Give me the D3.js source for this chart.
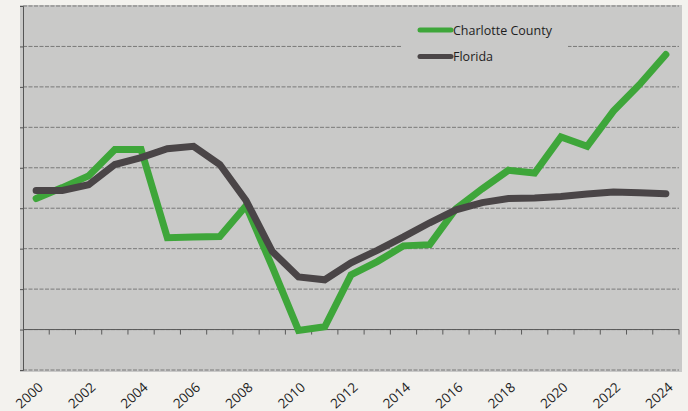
<!DOCTYPE html>
<html>

<head>
    <meta charset="utf-8">
    <title>Charlotte County vs Florida</title>
    <script src="https://d3js.org/d3.v7.min.js"></script>
    <style>
        body { margin: 0; background: #f3f2ee; }
        svg { display: block; }
    </style>
</head>

<body>
    <svg width="688" height="411"></svg>
    <script>
        // data (one gridline = 1 unit, category axis sits at 0)
        const years = d3.range(2000, 2025)
        const charlotte = [3.24, 3.51, 3.80, 4.45, 4.45, 2.27, 2.29, 2.30, 3.06, 1.55,
            -0.02, 0.07, 1.35, 1.68, 2.07, 2.10, 2.99, 3.48, 3.94, 3.87,
            4.76, 4.53, 5.40, 6.06, 6.80]
        const florida = [3.44, 3.44, 3.58, 4.08, 4.25, 4.47, 4.53, 4.08, 3.19, 1.93,
            1.30, 1.23, 1.65, 1.96, 2.29, 2.64, 2.96, 3.14, 3.24, 3.25,
            3.29, 3.35, 3.40, 3.38, 3.36]
        const yTicks = d3.range(-1, 9)
        const labelYears = years.filter(y => y % 2 == 0)

        const series = [
            { name: "Charlotte County", values: charlotte, color: "#3ea63a" },
            { name: "Florida", values: florida, color: "#4a4547" }
        ]

        const svg = d3.select("svg")
        const plot = { left: 23, right: 679, top: 6, bottom: 370 }

        const xScale = d3.scaleBand()
            .domain(years)
            .range([plot.left, plot.right])
        const xMid = d => xScale(d) + xScale.bandwidth() / 2

        const yScale = d3.scaleLinear()
            .domain([-1, 8])
            .range([plot.bottom, plot.top])

        // plot area background
        svg.append("rect")
            .attr("x", plot.left - 3)
            .attr("y", plot.top - 1)
            .attr("width", plot.right - plot.left + 6)
            .attr("height", plot.bottom - plot.top + 3)
            .attr("fill", "#c9c9c8")

        // gridlines
        svg.append("g")
            .selectAll("line")
            .data(yTicks)
            .enter()
            .append("line")
            .attr("x1", plot.left)
            .attr("x2", plot.right)
            .attr("y1", d => yScale(d))
            .attr("y2", d => yScale(d))
            .attr("stroke", "#5f5f5f")
            .attr("stroke-width", 1)
            .attr("stroke-dasharray", "4,1.5")
            .attr("opacity", 0.75)

        // left value axis, no labels (cut off in the scan)
        const yAxis = d3.axisLeft(yScale)
            .tickValues(yTicks)
            .tickSize(3)
            .tickFormat("")
        const yG = svg.append("g")
            .attr("transform", `translate(${plot.left},0)`)
        yAxis(yG)
        yG.select(".domain").attr("stroke", "#555")
        yG.selectAll(".tick line").attr("stroke", "#555")

        // category axis crossing at 0
        const y0 = yScale(0)
        svg.append("line")
            .attr("x1", plot.left)
            .attr("x2", plot.right)
            .attr("y1", y0)
            .attr("y2", y0)
            .attr("stroke", "#5a5a5a")
            .attr("stroke-width", 1)
        svg.append("g")
            .selectAll("line")
            .data(years.slice(1).concat([2025]))
            .enter()
            .append("line")
            .attr("x1", d => d == 2025 ? plot.right : xScale(d))
            .attr("x2", d => d == 2025 ? plot.right : xScale(d))
            .attr("y1", y0)
            .attr("y2", y0 + 5)
            .attr("stroke", "#5a5a5a")

        // legend box hides gridlines behind it
        svg.append("rect")
            .attr("x", 402)
            .attr("y", 16)
            .attr("width", 166)
            .attr("height", 54)
            .attr("fill", "#c9c9c8")

        // lines
        const line = d3.line()
            .x((d, i) => xMid(years[i]))
            .y(d => yScale(d))

        svg.append("g")
            .selectAll("path")
            .data(series)
            .enter()
            .append("path")
            .attr("d", d => line(d.values))
            .attr("fill", "none")
            .attr("stroke", d => d.color)
            .attr("stroke-width", 7)
            .attr("stroke-linejoin", "miter")
            .attr("stroke-linecap", "round")

        // legend
        const legend = svg.append("g")
            .selectAll("g")
            .data(series)
            .enter()
            .append("g")
            .attr("transform", (d, i) => `translate(420, ${30 + i * 26.5})`)
        legend.append("line")
            .attr("x1", 0)
            .attr("x2", 31)
            .attr("stroke", d => d.color)
            .attr("stroke-width", 5)
            .attr("stroke-linecap", "round")
        legend.append("text")
            .attr("x", 33)
            .attr("y", 4.5)
            .attr("font-family", "'Open Sans', sans-serif")
            .attr("font-size", "12.5px")
            .attr("fill", "#1e1e1e")
            .text(d => d.name)

        // x labels, rotated
        svg.append("g")
            .selectAll("text")
            .data(labelYears)
            .enter()
            .append("text")
            .attr("transform", d => `translate(${xMid(d) + 1}, 381) rotate(-42)`)
            .attr("text-anchor", "end")
            .attr("dy", "0.75em")
            .attr("font-family", "'Open Sans', sans-serif")
            .attr("font-size", "13.5px")
            .attr("fill", "#1e1e1e")
            .text(d => d)
    </script>
</body>

</html>
